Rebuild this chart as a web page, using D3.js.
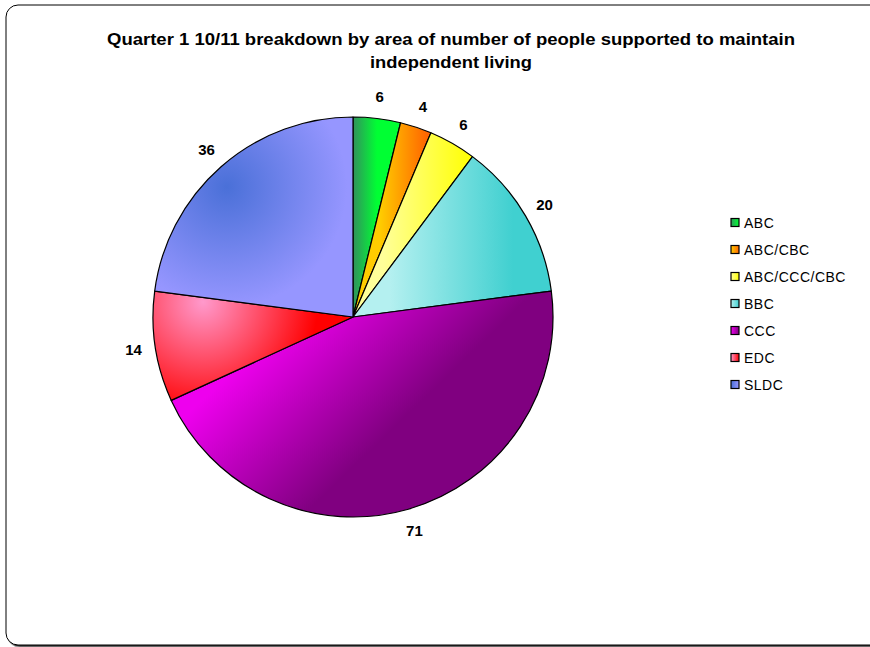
<!DOCTYPE html>
<html><head><meta charset="utf-8">
<script src="https://cdn.jsdelivr.net/npm/d3@7/dist/d3.min.js"></script>
<style>body{margin:0;background:#fff}svg{display:block;font-family:"Liberation Sans",Arial,sans-serif}</style>
</head><body><svg id="c" width="870" height="647"></svg>
<script>
const categories = ["ABC","ABC/CBC","ABC/CCC/CBC","BBC","CCC","EDC","SLDC"];
const values = [6,4,6,20,71,14,36];
const colorsLight = ["#2e9a5a","#ffcc00","#ffff99","#b4f0f0","#ee00ee","#ff99cc","#4a70d8"];
const colorsDark  = ["#00ff33","#ff6600","#ffff00","#40d0d0","#800080","#ff0000","#9696ff"];
const titleLines = ["Quarter 1 10/11 breakdown by area of number of people supported to maintain","independent living"];

const svg = d3.select("#c");
const defs = svg.append("defs");
const cx = 353, cy = 317, R = 200;

// frame
defs.append("filter").attr("id","sh").html('<feDropShadow dx="1.5" dy="1.5" stdDeviation="0.6" flood-color="#000" flood-opacity="0.8"/>');
svg.append("rect").attr("x",6).attr("y",5).attr("width",900).attr("height",640).attr("rx",12)
  .attr("fill","#fff").attr("stroke","#000").attr("stroke-width",1).attr("filter","url(#sh)");

// title
const tLen = [688,162];
svg.append("g").selectAll("text").data(titleLines).join("text")
  .attr("x",451).attr("y",(d,i)=>45+i*23).attr("text-anchor","middle")
  .attr("font-weight","bold").attr("font-size",16.5)
  .attr("textLength",(d,i)=>tLen[i]).attr("lengthAdjust","spacingAndGlyphs").text(d=>d);

const pie = d3.pie().sort(null).value(d=>d)(values);
const arc = d3.arc().innerRadius(0).outerRadius(R);

// gradient definitions, relative to pie center
const gradSpec = [
  {t:"l", a:[2,0], b:[24,0]},
  {t:"l", a:[27,0], b:[74,0]},
  {t:"l", a:[30,0], b:[120,0]},
  {t:"l", a:[37,0], b:[160,0]},
  {t:"l", a:[-106,40], b:[0,150]},
  {t:"r", c:[-150,-15], r:115},
  {t:"r", c:[-126,-130], r:120}
];
categories.forEach((c,i)=>{
  const s = gradSpec[i];
  let g;
  if (s.t === "l") {
    g = defs.append("linearGradient").attr("id","g"+i).attr("gradientUnits","userSpaceOnUse")
      .attr("x1",s.a[0]).attr("y1",s.a[1]).attr("x2",s.b[0]).attr("y2",s.b[1]);
  } else {
    g = defs.append("radialGradient").attr("id","g"+i).attr("gradientUnits","userSpaceOnUse")
      .attr("cx",s.c[0]).attr("cy",s.c[1]).attr("r",s.r);
  }
  g.append("stop").attr("offset",0).attr("stop-color",colorsLight[i]);
  g.append("stop").attr("offset",1).attr("stop-color",colorsDark[i]);
  const lg = defs.append("linearGradient").attr("id","lg"+i);
  lg.append("stop").attr("offset",0).attr("stop-color",colorsLight[i]);
  lg.append("stop").attr("offset",1).attr("stop-color",colorsDark[i]);
});

const gp = svg.append("g").attr("transform",`translate(${cx},${cy})`);
gp.selectAll("path").data(pie).join("path").attr("d",arc)
  .attr("fill",(d,i)=>`url(#g${i})`).attr("stroke","#000").attr("stroke-width",1.2).attr("stroke-linejoin","round");

const labArc = d3.arc().innerRadius(222).outerRadius(222);
gp.selectAll("text").data(pie).join("text")
  .attr("transform",d=>`translate(${labArc.centroid(d)})`)
  .attr("text-anchor","middle").attr("dy","0.35em")
  .attr("font-weight","bold").attr("font-size",15).text(d=>d.data);

// legend
const lg = svg.append("g").attr("transform","translate(731,223)");
const rows = lg.selectAll("g").data(categories).join("g").attr("transform",(d,i)=>`translate(0,${i*27})`);
rows.append("rect").attr("x",0).attr("y",-4.5).attr("width",8).attr("height",8)
  .attr("fill",(d,i)=>`url(#lg${i})`).attr("stroke","#000").attr("stroke-width",1.2);
rows.append("text").attr("x",13).attr("y",0).attr("dy","0.35em").attr("font-size",14)
  .attr("letter-spacing",0.5).text(d=>d);
</script></body></html>
